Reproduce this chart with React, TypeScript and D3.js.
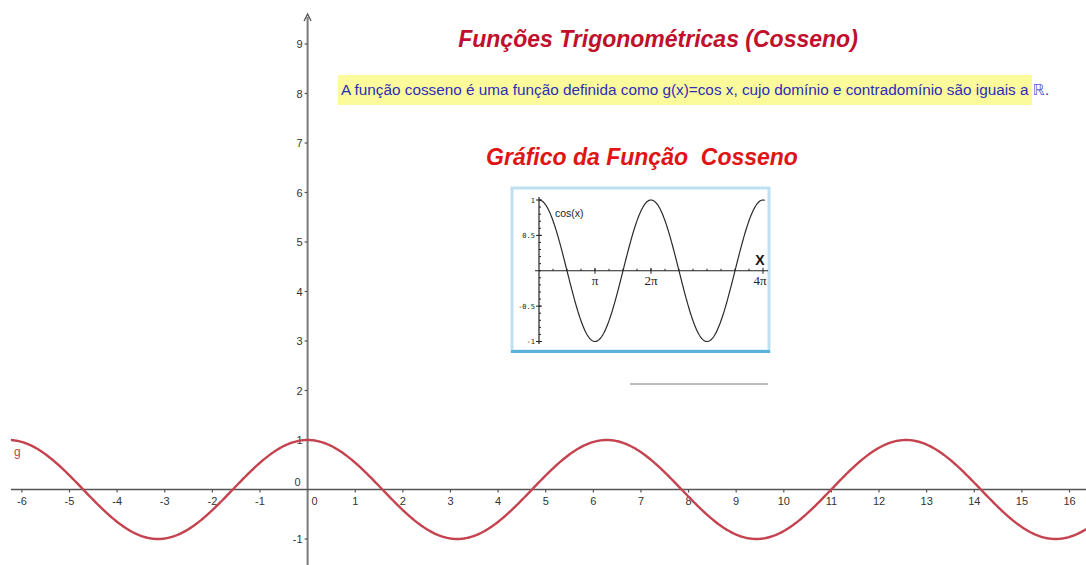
import React from "react";
import * as d3 from "d3";

const W = 1086;
const H = 565;

// Main plot: g(x) = cos x
const xTicks = [-6, -5, -4, -3, -2, -1, 1, 2, 3, 4, 5, 6, 7, 8, 9, 10, 11, 12, 13, 14, 15, 16];
const yTicks = [-1, 1, 2, 3, 4, 5, 6, 7, 8, 9];
const xDomain = [-6.23, 16.35];
const curveLabel = "g";

// Inset plot: cos(x) on [0, 4π]
const insetYTicks = [1, 0.5, -0.5, -1];
const insetYLabels = ["1", "0.5", "-0.5", "-1"];
const insetXTicks = [Math.PI, 2 * Math.PI, 4 * Math.PI];
const insetXLabels = ["π", "2π", "4π"];

const title = "Funções Trigonométricas (Cosseno)";
const subtitle = "A função cosseno é uma função definida como g(x)=cos x, cujo domínio e contradomínio são iguais a ";
const subtitle2 = "Gráfico da Função\u00A0 Cosseno";

const FONT = "'Liberation Sans', Arial, sans-serif";

export default function App() {
  const x = d3.scaleLinear().domain([0, 1]).range([307.6, 307.6 + 47.62]);
  const y = d3.scaleLinear().domain([0, 1]).range([489.5, 489.5 - 49.5]);

  const samples = d3.range(xDomain[0], xDomain[1] + 0.001, 0.02);
  const line = d3
    .line<number>()
    .x((d) => x(d))
    .y((d) => y(Math.cos(d)))
    .curve(d3.curveLinear);

  // inset scales
  const ix = d3.scaleLinear().domain([0, 4 * Math.PI]).range([539, 763]);
  const iy = d3.scaleLinear().domain([-1, 1]).range([341.5, 200]);
  const iSamples = d3.range(0, 4 * Math.PI + 0.12, 0.03);
  const iLine = d3
    .line<number>()
    .x((d) => ix(d))
    .y((d) => iy(Math.cos(d)));
  const iMinorX = d3.range(1, 16).map((k) => (k * Math.PI) / 4);
  const iMinorY = d3.range(-1, 1.01, 0.1);

  return (
    <svg
      width={W}
      height={H}
      style={{ position: "absolute", left: 0, top: 0, background: "#fff" }}
      fontFamily={FONT}
    >
      {/* y axis */}
      <line x1={x(0)} x2={x(0)} y1={17} y2={H} stroke="#7a7a7a" strokeWidth={2} />
      <path d={`M${x(0) - 3.5},${21} L${x(0)},${14} L${x(0) + 3.5},${21}`} fill="none" stroke="#555" strokeWidth={1.3} />
      {/* x axis */}
      <line x1={11} x2={W} y1={y(0)} y2={y(0)} stroke="#555" strokeWidth={1.5} />

      {xTicks.map((t) => (
        <g key={"xt" + t}>
          <line x1={x(t)} x2={x(t)} y1={y(0)} y2={y(0) + 3} stroke="#555" strokeWidth={1.2} />
          <text x={x(t)} y={y(0) + 15} fontSize={11} fill="#333" textAnchor="middle">
            {String(t)}
          </text>
        </g>
      ))}
      <text x={x(0) + 7} y={y(0) + 15} fontSize={11} fill="#333" textAnchor="middle">0</text>
      <text x={x(0) - 10} y={y(0) - 4} fontSize={11} fill="#333" textAnchor="middle">0</text>

      {yTicks.map((t) => (
        <g key={"yt" + t}>
          <line x1={x(0) - 3} x2={x(0)} y1={y(t)} y2={y(t)} stroke="#555" strokeWidth={1.2} />
          <text x={x(0) - 5} y={y(t) + 4} fontSize={11} fill="#333" textAnchor="end">
            {String(t)}
          </text>
        </g>
      ))}

      {/* curve g */}
      <path d={line(samples) || ""} fill="none" stroke="#c4434f" strokeWidth={2.4} />
      <text x={14} y={456} fontSize={12} fill="#c4434f">{curveLabel}</text>

      {/* titles */}
      <text x={658} y={47} fontSize={23} fontWeight="bold" fontStyle="italic" fill="#c0102c" textAnchor="middle">
        {title}
      </text>

      <rect x={338} y={75} width={694} height={30} fill="#fbfb9c" />
      <text x={341} y={95} fontSize={15.3} fill="#2d2db8">
        {subtitle}
        <tspan fill="#6060d0" fontFamily="'DejaVu Sans', sans-serif">ℝ</tspan>
        <tspan>.</tspan>
      </text>

      <text x={642} y={165} fontSize={23} fontWeight="bold" fontStyle="italic" fill="#e01414" textAnchor="middle">
        {subtitle2}
      </text>

      {/* inset picture */}
      <rect x={510} y={186} width={261} height={199} fill="#fff" />
      <rect x={512} y={188} width={257} height={163} fill="none" stroke="#bfe0f0" strokeWidth={3} />
      <line x1={511} x2={770} y1={351.5} y2={351.5} stroke="#58b2da" strokeWidth={3} />
      <line x1={630} x2={768} y1={384} y2={384} stroke="#555" strokeWidth={0.8} />

      {/* inset axes */}
      <line x1={ix(0) - 4} x2={768} y1={iy(0)} y2={iy(0)} stroke="#222" strokeWidth={1.2} />
      <line x1={ix(0)} x2={ix(0)} y1={197} y2={344} stroke="#222" strokeWidth={1.2} />
      {iMinorX.map((t, i) => (
        <line key={"imx" + i} x1={ix(t)} x2={ix(t)} y1={iy(0) - 2} y2={iy(0)} stroke="#222" strokeWidth={1} />
      ))}
      {iMinorY.map((t, i) => (
        <line key={"imy" + i} x1={ix(0)} x2={ix(0) + 2} y1={iy(t)} y2={iy(t)} stroke="#222" strokeWidth={1} />
      ))}
      {insetYTicks.map((t, i) => (
        <g key={"iyt" + i}>
          <line x1={ix(0) - 3} x2={ix(0) + 3} y1={iy(t)} y2={iy(t)} stroke="#222" strokeWidth={1} />
          <text x={ix(0) - 4} y={iy(t) + 2.5} fontSize={7} fill="#222" textAnchor="end" fontFamily="'DejaVu Sans Mono', monospace">
            {insetYLabels[i]}
          </text>
        </g>
      ))}
      {insetXTicks.map((t, i) => (
        <g key={"ixt" + i}>
          <line x1={ix(t)} x2={ix(t)} y1={iy(0) - 3} y2={iy(0) + 3} stroke="#222" strokeWidth={1} />
          <text x={ix(t) + (i === 2 ? -3 : 0)} y={iy(0) + 14} fontSize={13} fill="#222" textAnchor="middle" fontFamily="'Liberation Serif', serif">
            {insetXLabels[i]}
          </text>
        </g>
      ))}
      <path d={iLine(iSamples) || ""} fill="none" stroke="#2a2a2a" strokeWidth={1.2} />
      <text x={555} y={217} fontSize={10.5} fill="#222">cos(x)</text>
      <text x={760} y={265} fontSize={14} fontWeight="bold" fill="#111" textAnchor="middle">X</text>
    </svg>
  );
}
